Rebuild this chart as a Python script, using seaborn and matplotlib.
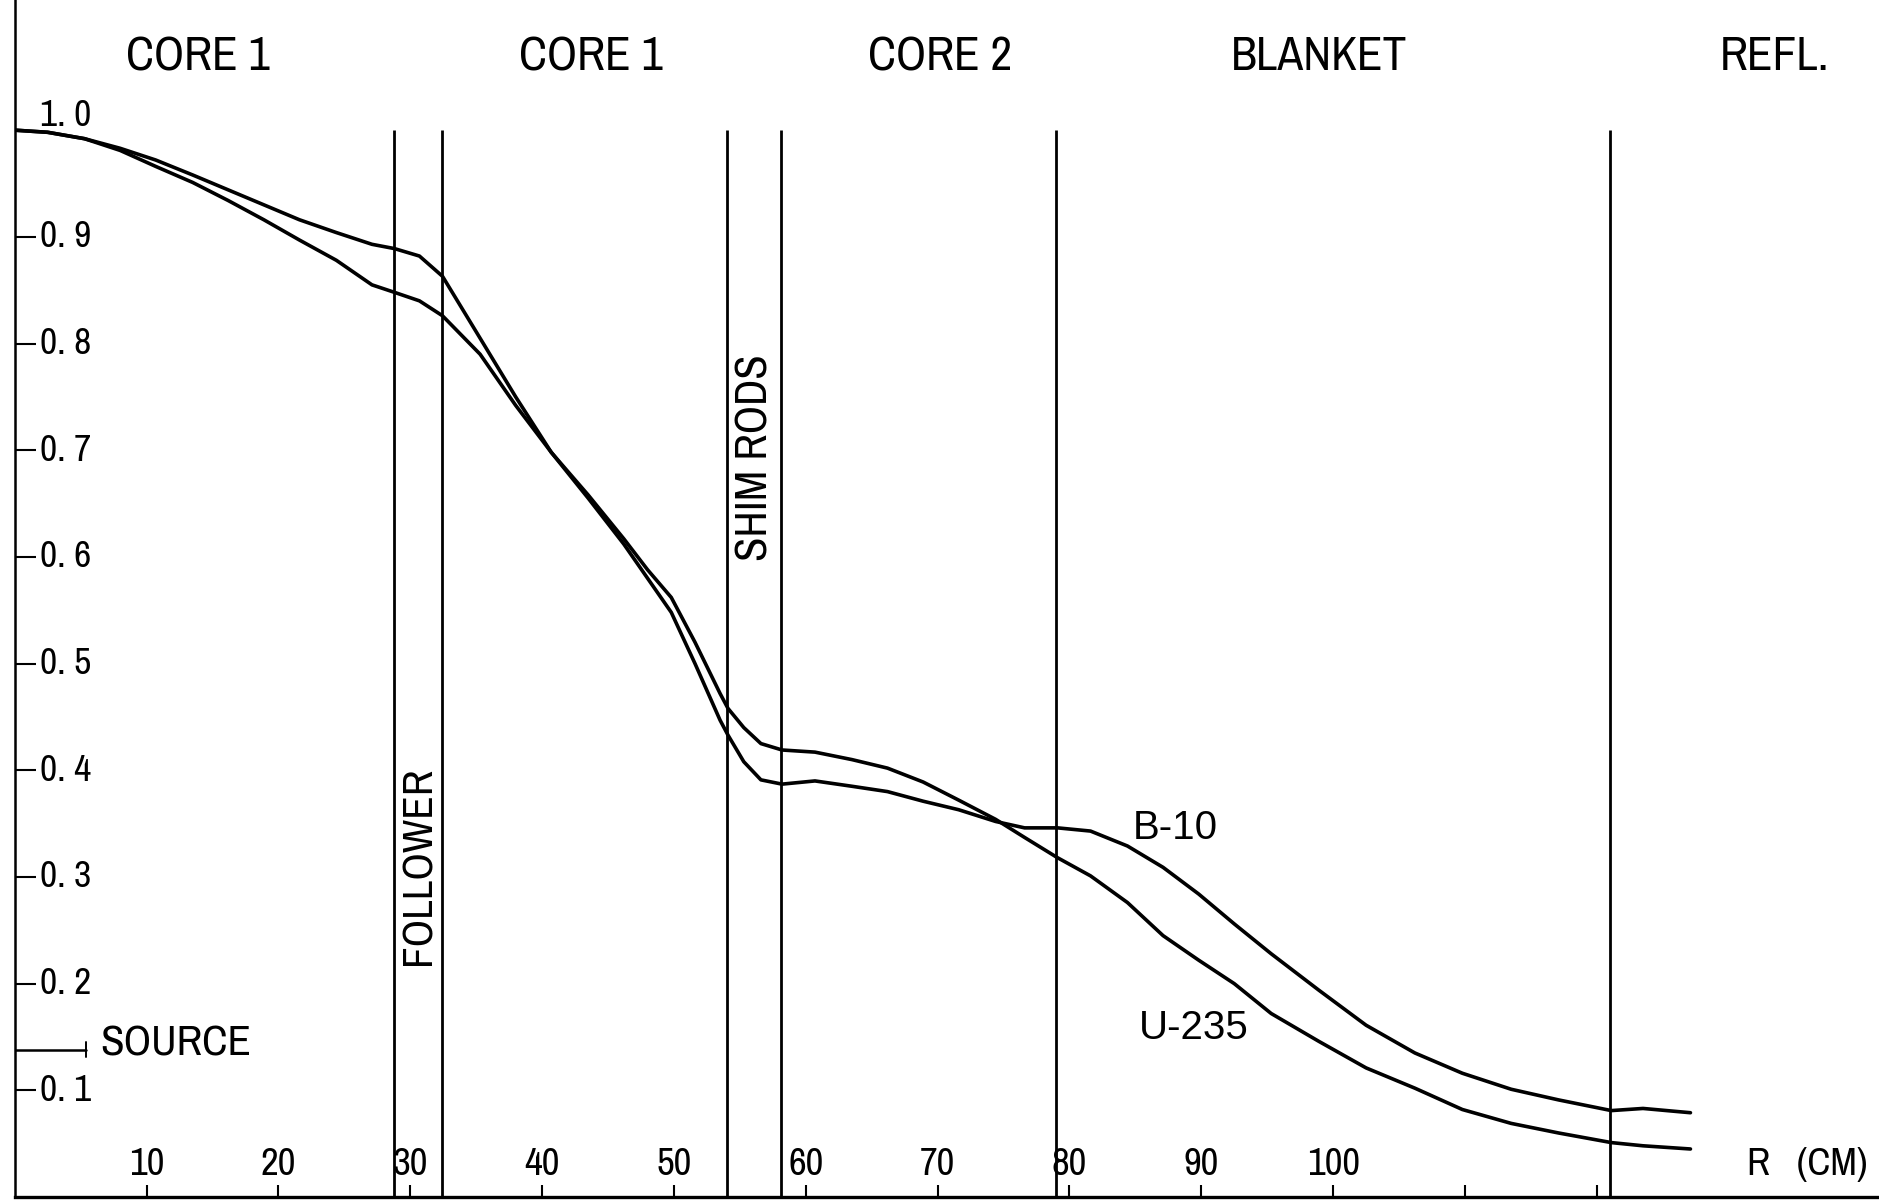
import numpy as np
import pandas as pd
import seaborn as sns
import matplotlib.pyplot as plt
from matplotlib import font_manager

# radius (cm) and relative reaction rates
r_cm = [0, 2.5, 5.3, 8, 10.7, 13.5, 16.2, 18.9, 21.6, 24.4,
        27.1, 28.8, 30.7, 32.45, 35.3, 38, 40.7, 43.5, 46.2, 48,
        49.8, 51.6, 53.5, 54.1, 55.3, 56.6, 58.2, 60.7, 63.5, 66.2,
        68.9, 71.6, 74.4, 76.6, 79.1, 81.6, 84.4, 87.1, 89.8, 92.5,
        95.3, 98.9, 102.5, 106.2, 109.8, 113.5, 117.1, 121.1, 123.5, 127.1]
b10 = [1.0, 0.998, 0.992, 0.983, 0.972, 0.958, 0.944, 0.930, 0.916, 0.904,
       0.893, 0.889, 0.882, 0.863, 0.805, 0.75, 0.698, 0.655, 0.612, 0.58,
       0.548, 0.5, 0.447, 0.433, 0.408, 0.391, 0.387, 0.39, 0.385, 0.38,
       0.371, 0.363, 0.352, 0.346, 0.346, 0.343, 0.329, 0.309, 0.284, 0.256,
       0.228, 0.194, 0.161, 0.135, 0.116, 0.101, 0.091, 0.081, 0.083, 0.079]
u235 = [1.0, 0.998, 0.992, 0.981, 0.966, 0.951, 0.934, 0.916, 0.897, 0.878,
        0.855, 0.848, 0.84, 0.826, 0.79, 0.742, 0.698, 0.658, 0.617, 0.588,
        0.562, 0.52, 0.472, 0.458, 0.44, 0.425, 0.419, 0.417, 0.41, 0.402,
        0.389, 0.372, 0.354, 0.337, 0.318, 0.301, 0.276, 0.245, 0.222, 0.2,
        0.172, 0.146, 0.121, 0.102, 0.082, 0.069, 0.06, 0.051, 0.048, 0.045]

# region boundaries (cm)
boundaries = [28.8, 32.4, 54.0, 58.1, 79.0, 121.0]
regions = ['CORE 1', 'CORE 1', 'CORE 2', 'BLANKET', 'REFL.']
region_x = [13.9, 43.7, 70.2, 98.9, 133.5]

xticks = [10, 20, 30, 40, 50, 60, 70, 80, 90, 100, 110, 120]
xtick_labels = ['10', '20', '30', '40', '50', '60', '70', '80', '90', '100', '', '']
yticks = [0.1, 0.2, 0.3, 0.4, 0.5, 0.6, 0.7, 0.8, 0.9]
ytick_labels = ['0. 1', '0. 2', '0. 3', '0. 4', '0. 5', '0. 6', '0. 7', '0. 8', '0. 9']
source_level = 0.138

df = pd.DataFrame({
    'r': r_cm * 2,
    'rate': b10 + u235,
    'nuclide': ['B-10'] * len(r_cm) + ['U-235'] * len(r_cm),
})

# plotter-like lettering: pick any narrow face that is installed
installed = sorted({f.name for f in font_manager.fontManager.ttflist})
narrow = [n for n in installed if 'Narrow' in n or 'Condensed' in n]

sns.set_style("white")
plt.rcParams['font.family'] = narrow[:1] + ['DejaVu Sans']
plt.rcParams['font.stretch'] = 'condensed'
plt.rcParams['text.color'] = 'black'

fig = plt.figure(figsize=(18.79, 12), dpi=100)
ax = fig.add_axes([0.0078, 0.0025, 0.9922, 0.9975])

sns.lineplot(data=df, x='r', y='rate', hue='nuclide', palette=['black', 'black'],
             sort=False, estimator=None, legend=False, linewidth=2.6, ax=ax)

ax.vlines(boundaries, 0, 1.0, colors='black', linewidth=2.0)

ax.set_xlim(0, 141.4)
ax.set_ylim(0, 1.122)
sns.despine(ax=ax, top=True, right=True)
for side in ['left', 'bottom']:
    ax.spines[side].set_color('black')
ax.spines['left'].set_linewidth(1.8)
ax.spines['bottom'].set_linewidth(2.4)

ax.set_xticks(xticks)
ax.set_yticks(yticks)
ax.set_xticklabels([])
ax.set_yticklabels([])
ax.tick_params(axis='x', direction='in', length=9, width=1.5, color='black', bottom=True)
ax.tick_params(axis='y', direction='in', length=15, width=1.5, color='black', left=True)
ax.set_xlabel('')
ax.set_ylabel('')

for x, lab in zip(xticks, xtick_labels):
    ax.text(x, 0.03, lab, ha='center', va='center', fontsize=28)
for y, lab in zip(yticks, ytick_labels):
    ax.text(1.9, y, lab, ha='left', va='center', fontsize=27)
ax.text(1.9, 1.014, '1. 0', ha='left', va='center', fontsize=27)
ax.text(131.4, 0.03, 'R   (CM)', ha='left', va='center', fontsize=28)

for x, lab in zip(region_x, regions):
    ax.text(x, 1.069, lab, ha='center', va='center', fontsize=34)

ax.text(30.6, 0.31, 'FOLLOWER', rotation=90, ha='center', va='center', fontsize=31)
ax.text(56.2, 0.693, 'SHIM RODS', rotation=90, ha='center', va='center', fontsize=32)

# source position marker
ax.plot([0, 5.4], [source_level, source_level], color='black', linewidth=1.8)
ax.plot([5.4, 5.4], [source_level - 0.007, source_level + 0.007], color='black', linewidth=1.4)
ax.text(6.5, source_level + 0.006, 'SOURCE', ha='left', va='center', fontsize=31)

ax.text(84.8, 0.346, 'B-10', ha='left', va='center', fontsize=29,
        family=['Liberation Sans', 'DejaVu Sans'], stretch='normal')
ax.text(85.3, 0.158, 'U-235', ha='left', va='center', fontsize=29,
        family=['Liberation Sans', 'DejaVu Sans'], stretch='normal')

fig.savefig('out.png', dpi=100)
